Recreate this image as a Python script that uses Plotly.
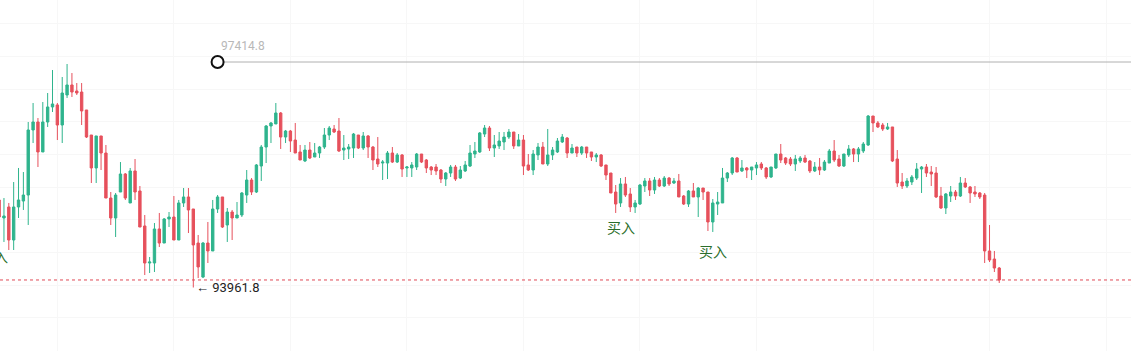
import plotly.graph_objects as go

# OHLC values (price units)
open_ = [95302, 95026, 95195, 94689, 95195, 95286, 95378, 96374, 96496, 96037,
         96496, 96726, 96757, 96450, 96910, 97063, 96971, 96955, 96680, 96297,
         95792, 96282, 96021, 95332, 95026, 95424, 95700, 95256, 95746, 95440,
         94904, 94337, 94337, 94858, 94643, 95011, 95041, 94689, 95256, 95348,
         95164, 94643, 94122, 94643, 94521, 95164, 95348, 94919, 95118, 95026,
         95072, 95378, 95608, 95424, 95822, 96113, 96435, 96466, 96634, 96266,
         96358, 96220, 96037, 95899, 96067, 95960, 96021, 96113, 96297, 96389,
         96358, 96067, 96083, 96098, 96297, 96098, 96282, 96113, 95929, 95868,
         95868, 96021, 95883, 95991, 95792, 95792, 95807, 96006, 95914, 95807,
         95807, 95761, 95623, 95715, 95807, 95638, 95746, 95822, 96006, 96037,
         96312, 96404, 96098, 96129, 96190, 96266, 96343, 96129, 96220, 95838,
         95761, 95991, 96113, 95853, 95991, 96037, 96190, 96251, 96021, 96113,
         96021, 96113, 96037, 95960, 95991, 95838, 95715, 95424, 95256, 95547,
         95394, 95195, 95240, 95516, 95593, 95455, 95608, 95516, 95638, 95562,
         95593, 95363, 95240, 95440, 95348, 95485, 95424, 94965, 95240, 95256,
         95638, 95715, 95945, 95746, 95792, 95761, 95792, 95853, 95792, 95654,
         95792, 96006, 95945, 95929, 95853, 95899, 95945, 95899, 95746, 95807,
         95761, 95868, 96052, 95929, 95822, 95991, 96083, 96006, 96052, 96144,
         96588, 96481, 96450, 96389, 96420, 95929, 95577, 95516, 95577, 95638,
         95776, 95807, 95730, 95715, 95363, 95179, 95363, 95424, 95363, 95562,
         95501, 95424, 95409, 95378, 94521, 94398, 94260]
high = [95348, 95332, 95256, 95577, 95792, 95730, 96496, 96787, 96557, 96802,
        96940, 97292, 96787, 97185, 97384, 97246, 97093, 97093, 96680, 96297,
        96282, 96282, 96144, 95424, 95409, 95883, 95715, 95792, 95929, 95516,
        95072, 94429, 94949, 95103, 95026, 95118, 95363, 95302, 95485, 95485,
        95164, 94766, 94659, 94965, 95302, 95378, 95348, 95179, 95149, 95271,
        95424, 95761, 95638, 95853, 96144, 96450, 96496, 96787, 96649, 96374,
        96374, 96481, 96144, 96144, 96190, 96174, 96129, 96404, 96435, 96450,
        96557, 96297, 96159, 96328, 96297, 96343, 96297, 96129, 96266, 95914,
        96052, 96113, 96021, 96006, 95822, 95883, 96021, 96006, 95929, 95822,
        95853, 95776, 95730, 95838, 95838, 95822, 95899, 96144, 96190, 96343,
        96450, 96435, 96297, 96343, 96343, 96389, 96343, 96312, 96297, 96006,
        96067, 96174, 96190, 96389, 96113, 96251, 96312, 96266, 96159, 96113,
        96129, 96113, 96037, 96021, 96006, 95838, 95715, 95531, 95638, 95654,
        95485, 95302, 95547, 95638, 95638, 95654, 95638, 95669, 95654, 95638,
        95700, 95378, 95455, 95562, 95501, 95485, 95424, 95317, 95424, 95792,
        95730, 95960, 95960, 95914, 95807, 95807, 95883, 95883, 95807, 95807,
        96006, 96159, 95960, 95960, 95991, 95975, 95991, 95914, 95883, 95945,
        95914, 96083, 96220, 95991, 96006, 96144, 96098, 96113, 96190, 96603,
        96588, 96511, 96481, 96481, 96420, 96067, 95715, 95638, 95684, 95868,
        95822, 95853, 95822, 95807, 95501, 95409, 95516, 95455, 95654, 95638,
        95516, 95516, 95424, 95409, 94919, 94521, 94276]
low = [94659, 94659, 94536, 94536, 95026, 95149, 94919, 96174, 95807, 96037,
       96420, 96649, 96220, 96174, 96864, 96879, 96910, 96450, 96251, 95562,
       95562, 95761, 95332, 94919, 94735, 95424, 95302, 95256, 95302, 94888,
       94153, 94184, 94199, 94582, 94643, 94888, 94689, 94689, 95195, 94796,
       93961.8, 94107, 94107, 94337, 94521, 95103, 94873, 94659, 94689, 95026,
       95041, 95256, 95378, 95409, 95593, 95868, 96174, 96466, 96083, 96174,
       96037, 96021, 95914, 95883, 95929, 95960, 95945, 96083, 96220, 96328,
       96037, 95914, 95929, 95945, 96083, 96067, 95945, 95761, 95807, 95608,
       95623, 95868, 95868, 95654, 95654, 95654, 95761, 95868, 95715, 95684,
       95684, 95562, 95516, 95654, 95593, 95623, 95730, 95807, 95945, 96021,
       96266, 96052, 95960, 96083, 96067, 96236, 96083, 96129, 95684, 95746,
       95684, 95914, 95853, 95822, 95914, 96021, 96174, 95945, 96021, 95960,
       95991, 95945, 95899, 95883, 95807, 95608, 95409, 95103, 95195, 95348,
       95118, 95103, 95225, 95424, 95363, 95394, 95501, 95501, 95516, 95547,
       95348, 95225, 95195, 95348, 95041, 95302, 94827, 94812, 95072, 95256,
       95577, 95684, 95730, 95730, 95638, 95608, 95684, 95761, 95623, 95638,
       95776, 95868, 95838, 95822, 95746, 95868, 95868, 95715, 95730, 95684,
       95746, 95868, 95883, 95807, 95807, 95960, 95883, 95883, 96021, 96129,
       96343, 96404, 96358, 96374, 95883, 95501, 95470, 95485, 95531, 95608,
       95409, 95654, 95516, 95332, 95164, 95087, 95271, 95302, 95348, 95485,
       95256, 95348, 95317, 94337, 94352, 94199, 94031]
close = [95041, 95057, 94689, 95195, 95302, 95378, 96374, 96496, 96037, 96496,
         96726, 96772, 96450, 96940, 97063, 96955, 96940, 96665, 96266, 95792,
         96282, 96021, 95332, 95026, 95378, 95700, 95332, 95746, 95424, 94888,
         94337, 94352, 94858, 94643, 95011, 95041, 94689, 95256, 95348, 95149,
         94613, 94276, 94643, 94521, 95164, 95348, 94888, 95118, 95026, 95072,
         95409, 95608, 95424, 95838, 96113, 96435, 96481, 96634, 96266, 96358,
         96205, 96021, 95914, 96067, 95945, 96021, 96113, 96297, 96404, 96343,
         96052, 96098, 96113, 96312, 96098, 96282, 96113, 95914, 95853, 95883,
         96021, 95883, 95991, 95776, 95807, 95838, 96006, 95883, 95792, 95761,
         95746, 95623, 95715, 95807, 95623, 95761, 95838, 96021, 96052, 96328,
         96404, 96098, 96144, 96205, 96266, 96343, 96129, 96220, 95822, 95761,
         96006, 96113, 95853, 95991, 96067, 96205, 96266, 96021, 96098, 96021,
         96113, 96021, 95960, 95991, 95822, 95684, 95409, 95240, 95547, 95378,
         95195, 95256, 95531, 95593, 95455, 95608, 95516, 95638, 95547, 95593,
         95348, 95240, 95440, 95348, 95485, 95424, 94965, 95256, 95271, 95638,
         95715, 95945, 95730, 95792, 95761, 95807, 95838, 95792, 95654, 95807,
         96006, 95914, 95868, 95853, 95929, 95945, 95883, 95746, 95807, 95761,
         95883, 96052, 95914, 95822, 96006, 96083, 96006, 96083, 96159, 96588,
         96481, 96420, 96389, 96420, 95899, 95562, 95516, 95593, 95654, 95776,
         95807, 95715, 95700, 95348, 95179, 95394, 95424, 95363, 95562, 95501,
         95409, 95394, 95348, 94521, 94383, 94260, 94077]

x_idx = list(range(len(open_)))

# annotations / reference levels
level_price = 97414.8
level_start = 45
buy_labels_x = [128, 147]
buy_labels_y = [94888, 94521]
buy_label_left_y = 94444

GREEN = "#2fb48d"
RED = "#e6505c"

fig = go.Figure()
fig.add_trace(go.Candlestick(
    x=x_idx, open=open_, high=high, low=low, close=close,
    increasing=dict(line=dict(color=GREEN, width=1), fillcolor=GREEN),
    decreasing=dict(line=dict(color=RED, width=1), fillcolor=RED),
    whiskerwidth=0, showlegend=False, hoverinfo="skip",
))

x_end = 240
fig.add_trace(go.Scatter(
    x=[level_start, x_end], y=[level_price, level_price], mode="lines",
    line=dict(color="#b0b0b0", width=1), showlegend=False, hoverinfo="skip"))
fig.add_trace(go.Scatter(
    x=[level_start], y=[level_price], mode="markers",
    marker=dict(symbol="circle", size=12, color="white",
                line=dict(color="#111111", width=2)),
    showlegend=False, hoverinfo="skip"))

last_close = close[-1]
fig.add_shape(type="line", xref="paper", x0=0, x1=1, y0=last_close, y1=last_close,
              line=dict(color="#e04a56", width=1, dash="3px,3px"), layer="above")

min_low = min(low)
min_i = low.index(min_low)

annotations = [
    dict(x=level_start, y=level_price, xref="x", yref="y", text=f"{level_price:.1f}",
         showarrow=False, xanchor="left", yanchor="middle", xshift=1, yshift=16,
         font=dict(family="Roboto, Arial, sans-serif", size=12, color="#b8b8b8")),
    dict(x=min_i, y=min_low, xref="x", yref="y", text=f"← {min_low:.1f}",
         showarrow=False, xanchor="left", yanchor="middle", xshift=1, yshift=0,
         font=dict(family="Roboto, Arial, sans-serif", size=13, color="#222222")),
]
for bx, by in zip(buy_labels_x, buy_labels_y):
    annotations.append(dict(x=bx, y=by, xref="x", yref="y", text="买入", showarrow=False,
                            xanchor="center", yanchor="middle",
                            font=dict(family="Noto Sans CJK SC", size=14, color="#2b6e2b")))
annotations.append(dict(x=-6 / 1131, y=buy_label_left_y, xref="paper", yref="y", text="买入",
                        showarrow=False, xanchor="center", yanchor="middle",
                        font=dict(family="Noto Sans CJK SC", size=14, color="#2b6e2b")))

fig.update_layout(
    width=1131, height=351,
    margin=dict(l=0, r=0, t=0, b=0, pad=0),
    paper_bgcolor="white", plot_bgcolor="white",
    annotations=annotations,
    xaxis=dict(range=[0.185, 233.14], showgrid=True, gridcolor="#f7f7f7", gridwidth=1,
               tick0=12, dtick=24, showticklabels=False, zeroline=False, showline=False,
               rangeslider=dict(visible=False), fixedrange=True),
    yaxis=dict(range=[92989.5, 98364.2], showgrid=True, gridcolor="#f7f7f7", gridwidth=1,
               tick0=0, dtick=500, showticklabels=False, zeroline=False, showline=False,
               fixedrange=True),
)

fig.write_html("out.html")
